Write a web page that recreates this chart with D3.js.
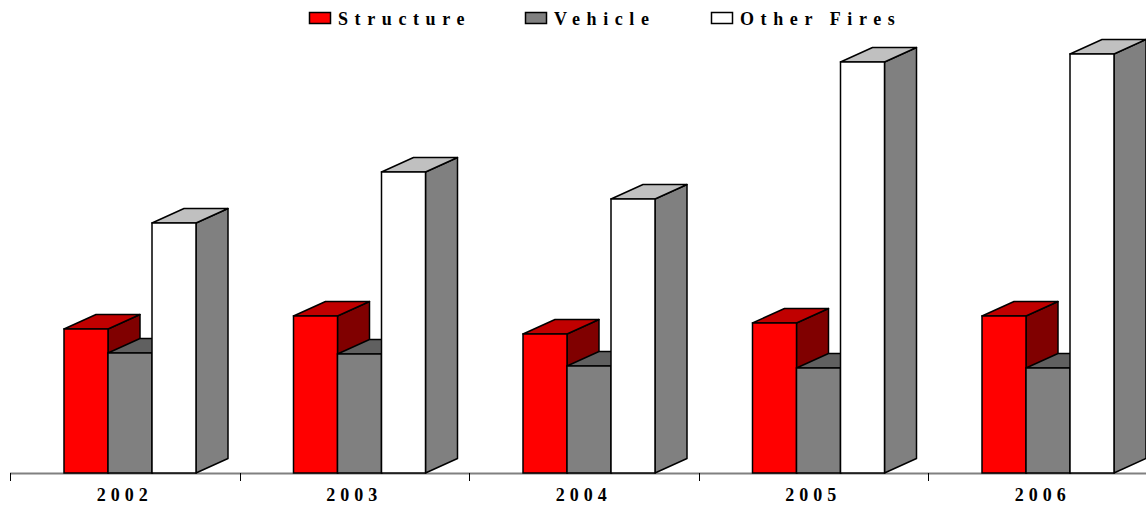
<!DOCTYPE html>
<html>
<head>
<meta charset="utf-8">
<script src="https://cdn.jsdelivr.net/npm/d3@7/dist/d3.min.js"></script>
<style>
  body { margin: 0; background: #fff; }
  svg { display: block; }
  text { font-family: "Liberation Serif", "Times New Roman", serif; font-weight: bold; }
</style>
</head>
<body>
<svg id="chart" width="1146" height="506"></svg>
<script>
// data
var years = ["2002", "2003", "2004", "2005", "2006"];
var series = ["Structure", "Vehicle", "Other Fires"];
var structure = [144, 157, 139, 150, 157];
var vehicle = [120, 119, 107, 105, 105];
var otherFires = [250, 301, 274, 411, 419];

var values = [structure, vehicle, otherFires];

// face colours: front, top, side
var faces = [
    { front: "#ff0000", top: "#c00000", side: "#800000" },
    { front: "#808080", top: "#606060", side: "#404040" },
    { front: "#ffffff", top: "#c0c0c0", side: "#808080" }
];

var W = 1146, H = 506;
var baseY = 473;
var dx = 32, dy = -14.5;

var svg = d3.select("#chart");

var x = d3.scaleBand().domain(years).range([10, 1157.5]).padding(0);
var x1 = d3.scaleBand().domain(series).range([54, 186]).padding(0);
var y = d3.scaleLinear().domain([0, 450]).range([baseY, 23]);

// axis line + boundary ticks
svg.append("line")
    .attr("x1", 10).attr("x2", W)
    .attr("y1", baseY + 0.5).attr("y2", baseY + 0.5)
    .attr("stroke", "#808080").attr("stroke-width", 2);

var bounds = years.map(function (d) { return x(d); });
svg.selectAll("line.tick")
    .data(bounds)
    .enter().append("line")
    .attr("class", "tick")
    .attr("x1", function (d) { return Math.round(d) + 0.5; })
    .attr("x2", function (d) { return Math.round(d) + 0.5; })
    .attr("y1", baseY).attr("y2", baseY + 8)
    .attr("stroke", "#000").attr("stroke-width", 1);

// bars
var bars = [];
years.forEach(function (yr, i) {
    series.forEach(function (s, j) {
        bars.push({ year: yr, s: j, v: values[j][i] });
    });
});

var g = svg.append("g");
bars.forEach(function (b) {
    var x0 = x(b.year) + x1(series[b.s]);
    var w = x1.bandwidth();
    var yt = y(b.v), yb = y(0);
    var c = faces[b.s];
    var bar = g.append("g");

    bar.append("polygon")
        .attr("points", [[x0 + w, yt], [x0 + w + dx, yt + dy], [x0 + w + dx, yb + dy], [x0 + w, yb]].join(" "))
        .attr("fill", c.side).attr("stroke", "#000").attr("stroke-width", 1.5)
        .attr("stroke-linejoin", "round");

    bar.append("polygon")
        .attr("points", [[x0, yt], [x0 + dx, yt + dy], [x0 + w + dx, yt + dy], [x0 + w, yt]].join(" "))
        .attr("fill", c.top).attr("stroke", "#000").attr("stroke-width", 1.5)
        .attr("stroke-linejoin", "round");

    bar.append("rect")
        .attr("x", x0).attr("y", yt)
        .attr("width", w).attr("height", yb - yt)
        .attr("fill", c.front).attr("stroke", "#000").attr("stroke-width", 1.5);
});

// year labels
svg.append("g")
    .attr("transform", "translate(0," + baseY + ")")
    .call(d3.axisBottom(x).tickSize(0).tickPadding(0))
    .call(function (a) { a.select(".domain").remove(); })
    .selectAll("text")
    .attr("y", 27.5)
    .attr("dy", 0)
    .attr("fill", "#000")
    .style("font-size", "18px")
    .style("letter-spacing", "5px")
    .style("font-family", "'Liberation Serif', serif")
    .style("font-weight", "bold");

// legend
var legendX = [309, 525, 711];
var leg = svg.selectAll("g.leg")
    .data(series)
    .enter().append("g")
    .attr("class", "leg")
    .attr("transform", function (d, i) { return "translate(" + legendX[i] + ",0)"; });

leg.append("rect")
    .attr("x", 0.5).attr("y", 12.5)
    .attr("width", 21).attr("height", 11)
    .attr("fill", function (d, i) { return faces[i].front; })
    .attr("stroke", "#000").attr("stroke-width", 1.5);

leg.append("text")
    .attr("x", 29).attr("y", 24.5)
    .style("font-size", "18px")
    .style("letter-spacing", "6.6px")
    .text(function (d) { return d; });
</script>
</body>
</html>
